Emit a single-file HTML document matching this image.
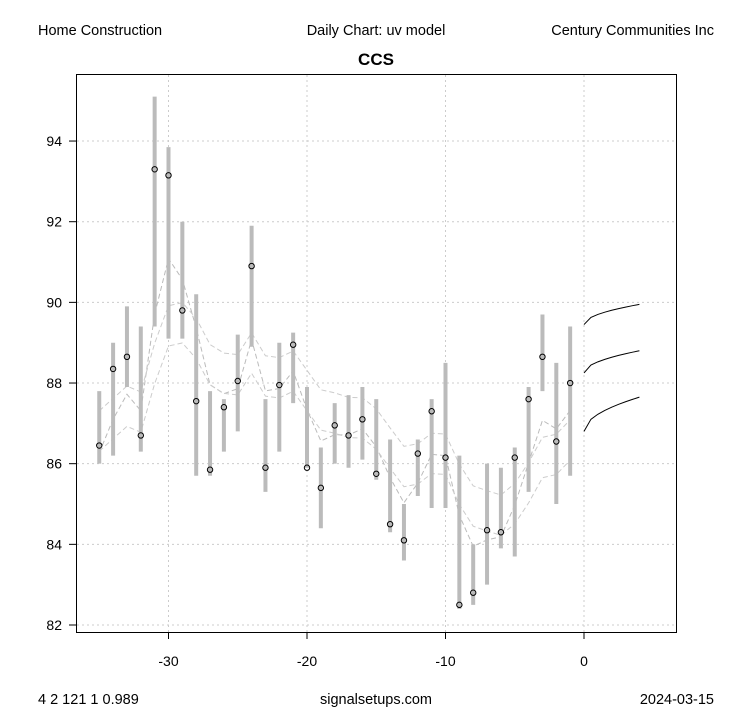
<!DOCTYPE html>
<html><head><style>
body{margin:0;background:#fff;}
svg text{font-family:"Liberation Sans",Arial,sans-serif;}
</style></head><body>
<svg id="s" width="753" height="708" xmlns="http://www.w3.org/2000/svg">
<rect width="753" height="708" fill="#fff"/>
<text x="38" y="35" font-size="14.5">Home Construction</text>
<text x="376" y="35" font-size="14.5" text-anchor="middle">Daily Chart: uv model</text>
<text x="714" y="35" font-size="14.5" text-anchor="end">Century Communities Inc</text>
<text x="376" y="65" font-size="17" font-weight="bold" text-anchor="middle">CCS</text>
<text x="38" y="704" font-size="14.5">4 2 121 1 0.989</text>
<text x="376" y="704" font-size="14.5" text-anchor="middle">signalsetups.com</text>
<text x="714" y="704" font-size="14.5" text-anchor="end">2024-03-15</text>
<g id="g"></g>
<rect x="76.5" y="74.5" width="600" height="558" fill="none" stroke="#000"/>
</svg>
<script>
const X=v=>584+v*13.85, Y=v=>625-(v-82)*40.33;
const d=[[-35,86.45,86.0,87.8],[-34,88.35,86.2,89.0],[-33,88.65,87.9,89.9],[-32,86.7,86.3,89.4],[-31,93.3,89.4,95.1],[-30,93.15,89.1,93.85],[-29,89.8,89.1,92.0],[-28,87.55,85.7,90.2],[-27,85.85,85.7,87.8],[-26,87.4,86.3,87.6],[-25,88.05,86.8,89.2],[-24,90.9,88.9,91.9],[-23,85.9,85.3,87.6],[-22,87.95,86.3,89.0],[-21,88.95,87.5,89.25],[-20,85.9,85.9,87.9],[-19,85.4,84.4,86.4],[-18,86.95,86.0,87.5],[-17,86.7,85.9,87.7],[-16,87.1,86.1,87.9],[-15,85.75,85.6,87.6],[-14,84.5,84.3,86.6],[-13,84.1,83.6,85.0],[-12,86.25,85.2,86.6],[-11,87.3,84.9,87.6],[-10,86.15,84.9,88.5],[-9,82.5,82.4,86.2],[-8,82.8,82.5,84.0],[-7,84.35,83.0,86.0],[-6,84.3,83.9,85.9],[-5,86.15,83.7,86.4],[-4,87.6,85.3,87.9],[-3,88.65,87.8,89.7],[-2,86.55,85.0,88.5],[-1,88.0,85.7,89.4]];
let h='';
for(let v=-30;v<=0;v+=10)h+=`<line x1="${X(v)}" y1="75" x2="${X(v)}" y2="632" stroke="#ccc" stroke-dasharray="2,3"/><line x1="${X(v)}" y1="632" x2="${X(v)}" y2="639" stroke="#000"/><text x="${X(v)}" y="666" font-size="14" text-anchor="middle">${v}</text>`;
for(let v=82;v<=94;v+=2)h+=`<line x1="77" y1="${Y(v)}" x2="676" y2="${Y(v)}" stroke="#ccc" stroke-dasharray="2,3"/><line x1="69" y1="${Y(v)}" x2="76" y2="${Y(v)}" stroke="#000"/><text x="62" y="${Y(v)+5}" font-size="14" text-anchor="end">${v}</text>`;
let e=d[0][1]-0.3,m=86.9,s1=[],s2=[];
d.forEach(r=>{e=e*0.6+r[1]*0.4;m=m*0.8+r[1]*0.2;s1.push([X(r[0]),Y(e)]);s2.push([X(r[0]),m]);});
const pl=(p,c)=>`<polyline points="${p.map(q=>q.join(',')).join(' ')}" fill="none" stroke="${c}" stroke-dasharray="5,3"/>`;
h+=pl(s1,'#bbb');
h+=pl(s2.map(q=>[q[0],Y(q[1]+0.5)]),'#ccc');
h+=pl(s2.map(q=>[q[0],Y(q[1]-0.5)]),'#ccc');
d.forEach(r=>{h+=`<line x1="${X(r[0])}" y1="${Y(r[2])}" x2="${X(r[0])}" y2="${Y(r[3])}" stroke="#bbb" stroke-width="4"/>`;});
d.forEach(r=>{h+=`<circle cx="${X(r[0])}" cy="${Y(r[1])}" r="2.7" fill="none" stroke="#000"/>`;});
const f=(a,b)=>{let p=[];for(let i=0;i<=8;i++){let t=i/8;p.push([X(t*4),Y(a+(b-a)*Math.sqrt(t))]);}return `<polyline points="${p.map(q=>q.join(',')).join(' ')}" fill="none" stroke="#000"/>`;};
h+=f(89.45,89.95)+f(88.25,88.8)+f(86.8,87.65);
document.getElementById('g').innerHTML=h;
</script>
</body></html>
